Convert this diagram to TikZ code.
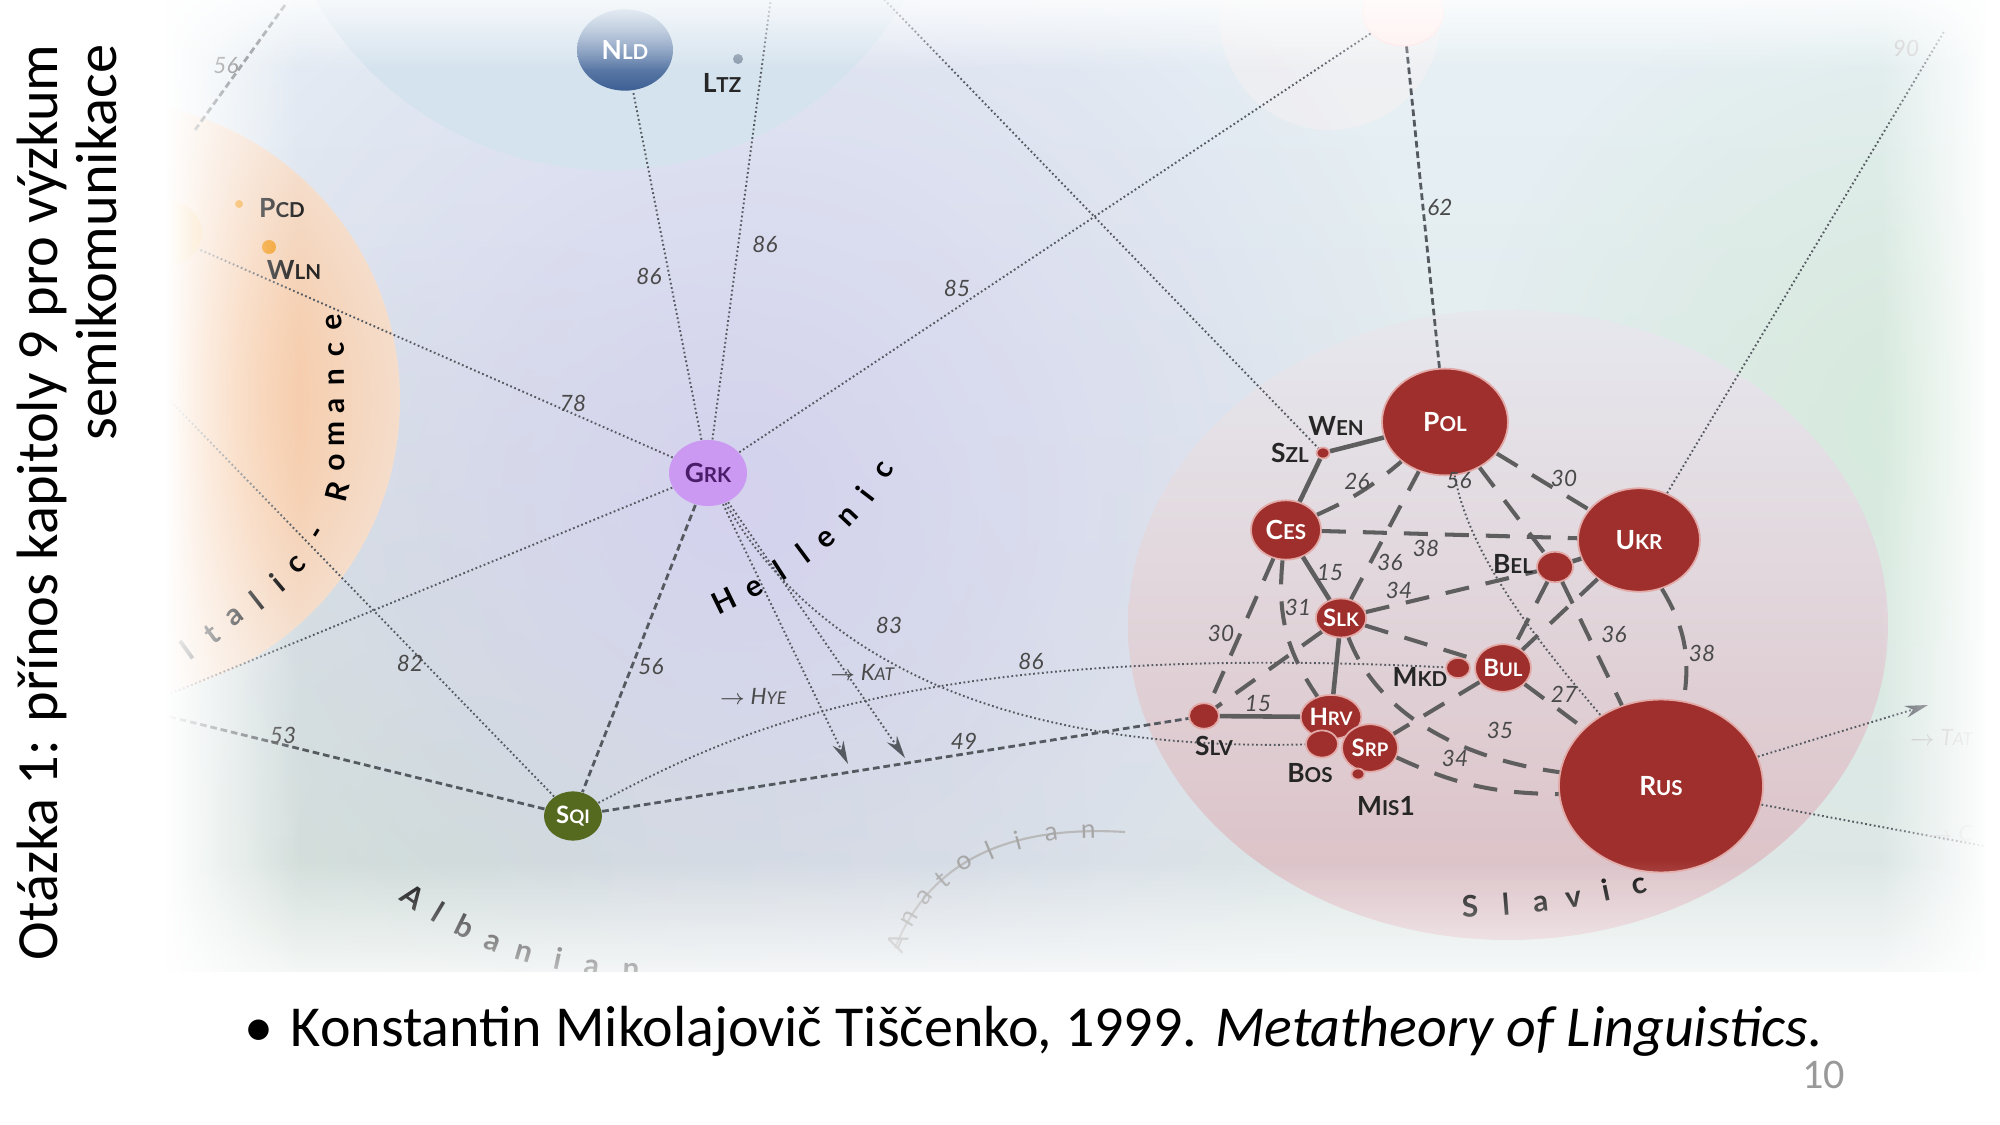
\documentclass[tikz,border=0pt]{standalone}
\usepackage{fontspec}
\usepackage{graphicx}
\setmainfont{Carlito}
\newfontfamily\labfont{Lato}
\usetikzlibrary{arrows.meta, fadings, shapes.geometric}

\definecolor{slavred}{HTML}{9E2F2C}
\definecolor{slavrim}{HTML}{E3A9A7}
\definecolor{netgray}{HTML}{5E5E5E}
\definecolor{dotgray}{HTML}{555A61}
\definecolor{numgray}{HTML}{4A4A4A}
\definecolor{grkfill}{HTML}{CC99F2}
\definecolor{grktext}{HTML}{4A1D6B}
\definecolor{sqifill}{HTML}{55691F}
\definecolor{nldtop}{HTML}{A9BED6}
\definecolor{nldbot}{HTML}{3D5F94}
\definecolor{romdot}{HTML}{F39A1E}
\definecolor{romnode}{HTML}{F8C274}
\definecolor{bgtop}{HTML}{E7F0F5}
\definecolor{bgbot}{HTML}{DCE6E4}
\definecolor{germblue}{HTML}{D5E3EE}
\definecolor{lav}{HTML}{D4D2EE}
\definecolor{albgreen}{HTML}{D0E1D2}
\definecolor{rgreen}{HTML}{D6EADC}
\definecolor{romin}{HTML}{F7B075}
\definecolor{romout}{HTML}{F5DDCB}
\definecolor{slavtop}{HTML}{E6E8EE}
\definecolor{slavbot}{HTML}{DBBFC4}

\tikzfading[name=fade r, left color=transparent!0, right color=transparent!100]
\tikzfading[name=fade l, left color=transparent!100, right color=transparent!0]
\tikzfading[name=fade d, top color=transparent!0, bottom color=transparent!100]
\tikzfading[name=fade u, top color=transparent!100, bottom color=transparent!0]
\tikzfading[name=blob, inner color=transparent!0, outer color=transparent!100]

\newcommand{\lng}[2]{#1\scalebox{0.78}{#2}}
\newcommand{\nodefont}{\labfont\bfseries\fontsize{7.5}{8}\selectfont}
\newcommand{\smallnodefont}{\labfont\bfseries\fontsize{6.8}{7}\selectfont}
\newcommand{\numfont}{\labfont\itshape\fontsize{6.4}{7}\selectfont}
\newcommand{\areafont}{\labfont\bfseries\fontsize{8.5}{9}\selectfont}
\newcommand{\titlefont}{\fontsize{16.6}{16.8}\selectfont}

\tikzset{
  langnode/.style={ellipse, inner sep=0pt, minimum width=#1, minimum height=#1/1.18, font=\nodefont},
  slav/.style={langnode=#1, fill=slavred, draw=slavrim, line width=0.5pt, text=white},
  farline/.style={dotgray, line width=0.55pt, dash pattern=on 0.5pt off 0.75pt},
  midline/.style={dotgray, line width=0.8pt, dash pattern=on 1.9pt off 1.1pt},
  netdash/.style={netgray, line width=1.15pt, dash pattern=on 2.4mm off 1.7mm},
  netsolid/.style={netgray, line width=1.3pt},
  numtxt/.style={font=\numfont, text=numgray, inner sep=0pt},
  tagtxt/.style={font=\nodefont, text=black!85, inner sep=0pt},
  areachar/.style={font=\areafont, sloped, anchor=base, inner sep=0pt},
  tip/.style={-{Stealth[length=2.3mm, width=1.2mm]}},
}

\begin{document}
\begin{tikzpicture}[x=0.1mm, y=-0.1mm]
\useasboundingbox (0,0) rectangle (2000,1125);
\fill[white] (0,0) rectangle (2000,1125);

% slide title, turned
\node[rotate=90, anchor=north east, align=right, inner sep=0pt, font=\titlefont] (title) at (16,44)
  {Otázka 1: přínos kapitoly 9 pro výzkum\\semikomunikace};

\begin{scope}
\clip (166,0) rectangle (1992,985);

% background areas
\shade[top color=bgtop, bottom color=bgbot] (166,0) rectangle (1992,985);
\fill[albgreen, path fading=blob] (470,860) circle (620);
\fill[rgreen, path fading=blob] (1920,420) circle (450);
\fill[lav, path fading=blob] (740,500) circle (720);
\fill[germblue] (610,-170) circle (340);
\shade[inner color=romin, outer color=romout] (100,400) circle (300);
\fill[pink!20, opacity=0.35] (1330,20) circle (110);
\shade[top color=slavtop, bottom color=slavbot]
  (1508,625) ellipse [x radius=380, y radius=315];

% area names
\foreach \ch/\x/\y/\r [count=\k] in {I/187/650/36, t/212/634/37, a/235/617/37, l/257/600/38, i/277/583/40,
    c/297/565/45, -/320/535/58, R/337/492/76, o/337/463/88, m/337/434/90, a/337/406/90,
    n/337/377/91, c/337/350/92, e/334/322/95}
  \node[font=\areafont, rotate=\r, inner sep=0pt] (ir\k) at (\x,\y) {\ch};
\path (722,614) .. controls (800,577) and (862,530) .. (898,462)
  foreach \ch/\p in {H/.03, e/.16, l/.29, l/.41, e/.53, n/.67, i/.80, c/.94}
  {node[areachar, pos=\p] {\ch}};
\path (400,900) .. controls (460,945) and (540,978) .. (650,980)
  foreach \ch/\p in {A/.04, l/.17, b/.30, a/.43, n/.56, i/.69, a/.81, n/.94}
  {node[areachar, pos=\p] {\ch}};
\path (1460,918) .. controls (1530,915) and (1590,908) .. (1650,891)
  foreach \ch/\p in {S/.05, l/.23, a/.41, v/.59, i/.77, c/.95}
  {node[areachar, pos=\p] {\ch}};
\draw[gray!55, line width=0.6pt] (895,948) .. controls (930,860) and (1010,825) .. (1125,832)
  foreach \ch/\p in {A/.02, n/.12, a/.22, t/.32, o/.43, l/.54, i/.65, a/.77, n/.89}
  {node[areachar, anchor=center, font=\labfont\fontsize{7.5}{8}\selectfont, text=gray!70, pos=\p] {\ch}};

% languages
\node[langnode=8mm, fill=romnode] (rom) at (162,233) {};
\node[circle, inner sep=0pt, minimum size=0.8mm, fill=romdot] (pcd) at (239,204) {};
\node[circle, inner sep=0pt, minimum size=1.4mm, fill=romdot] (wln) at (269,247) {};
\node[langnode=9.6mm, top color=nldtop, bottom color=nldbot, text=white] (nld) at (625,50) {\lng{N}{LD}};
\node[circle, inner sep=0pt, minimum size=1mm, fill=nldtop!80!black] (ltz) at (738,59) {};
\node[langnode=8mm, fill=pink!25, draw=pink!40] (topn) at (1403,12) {};
\node[langnode=7.8mm, fill=grkfill, text=grktext] (grk) at (708,473) {\lng{G}{RK}};
\node[langnode=5.8mm, fill=sqifill, text=white, font=\smallnodefont] (sqi) at (573,816) {\lng{S}{QI}};

\node[slav=12.6mm] (pol) at (1445,422) {\lng{P}{OL}};
\node[slav=12.2mm] (ukr) at (1639,540) {\lng{U}{KR}};
\node[slav=20.4mm] (rus) at (1661,786) {\lng{R}{US}};
\node[slav=7mm] (ces) at (1286,530) {\lng{C}{ES}};
\node[slav=4.6mm, font=\smallnodefont] (slk) at (1341,618) {\lng{S}{LK}};
\node[slav=3.6mm] (bel) at (1555,567) {};
\node[slav=5.6mm, font=\smallnodefont] (bul) at (1503,668) {\lng{B}{UL}};
\node[slav=2.4mm] (mkd) at (1458,668) {};
\node[slav=5.2mm, font=\smallnodefont] (hrv) at (1331,717) {\lng{H}{RV}};
\node[slav=3.2mm] (bos) at (1322,744) {};
\node[slav=5.6mm, font=\smallnodefont] (srp) at (1370,748) {\lng{S}{RP}};
\node[slav=1.3mm] (mis) at (1358,774) {};
\node[slav=3mm] (slv) at (1204,716) {};
\node[slav=1.3mm] (szl) at (1323,453) {};

% free ends
\coordinate (grkup) at (772,-10);
\coordinate (grkw) at (150,702);
\coordinate (romb) at (150,380);
\coordinate (sqiw) at (150,712);
\coordinate (hye) at (848,764);
\coordinate (kat) at (905,758);
\coordinate (szlup) at (875,-10);
\coordinate (ne90) at (1945,30);
\coordinate (tat) at (1928,705);
\coordinate (cout) at (1995,848);
\coordinate (nw1) at (285,5);
\coordinate (nw2) at (195,130);

% long distances
\draw[farline] (grk) -- (nld);
\draw[farline] (grk) -- (grkup);
\draw[farline] (grk) -- (topn);
\draw[farline] (grk) -- (rom);
\draw[farline] (grk) -- (grkw);
\draw[midline] (grk) -- (sqi);
\draw[farline, tip] (grk) -- (hye);
\draw[farline, tip] (grk) -- (kat);
\draw[farline] (grk) .. controls (840,700) and (1080,750) .. (bos);
\draw[farline] (sqi) -- (romb);
\draw[midline] (sqi) -- (sqiw);
\draw[midline] (sqi) -- (slv);
\draw[farline] (sqi) .. controls (720,740) and (900,640) .. (mkd);
\draw[midline] (topn) -- (pol);
\draw[farline] (szlup) -- (szl);
\draw[farline] (pol) .. controls (1470,560) and (1545,650) .. (rus);
\draw[farline] (ukr) -- (ne90);
\draw[farline, tip] (rus) -- (tat);
\draw[farline] (rus) -- (cout);
\draw[midline] (nw1) -- (nw2);

% slavic net
\draw[netsolid] (szl) -- (pol);
\draw[netsolid] (szl) -- (ces);
\draw[netsolid] (ces) -- (slk);
\draw[netsolid] (slk) -- (hrv);
\draw[netsolid] (slv) -- (hrv);
\draw[netsolid] (bel) -- (ukr);
\draw[netdash] (ces) to[bend right=8] (pol);
\draw[netdash] (slk) -- (pol);
\draw[netdash] (ces) -- (ukr);
\draw[netdash] (pol) -- (ukr);
\draw[netdash] (pol) -- (bel);
\draw[netdash] (bel) -- (rus);
\draw[netdash] (slk) -- (bel);
\draw[netdash] (slk) -- (bul);
\draw[netdash] (slk) .. controls (1380,720) and (1470,760) .. (rus);
\draw[netdash] (srp) to[bend right=12] (rus);
\draw[netdash] (bul) -- (rus);
\draw[netdash] (ukr) to[bend left=20] (rus);
\draw[netdash] (bel) -- (bul);
\draw[netdash] (ukr) -- (bul);
\draw[netdash] (bul) -- (srp);
\draw[netdash] (ces) -- (slv);
\draw[netdash] (ces) to[bend right=20] (hrv);
\draw[netdash] (slk) -- (slv);

% distances
\foreach \x/\y/\t [count=\k] in {1357/481/26, 1459/481/56, 1564/478/30, 1426/548/38, 1330/573/15,
    1390/562/36, 1399/590/34, 1298/607/31, 1221/633/30, 1614/634/36, 1702/653/38, 1564/694/27,
    1258/704/15, 1500/730/35, 1455/758/34, 1440/207/62, 957/288/85, 649/276/86, 765/244/86,
    573/403/78, 410/663/82, 651/667/56, 889/625/83, 1031/661/86, 964/741/49, 283/735/53, 226/66/56}
  \node[numtxt] (d\k) at (\x,\y) {\t};
\node[numtxt, text=gray!45] (d90) at (1906,48) {90};
\node[numtxt] (hyet) at (753,696) {$\to$ \lng{H}{YE}};
\node[numtxt] (katt) at (862,672) {$\to$ \lng{K}{AT}};
\node[numtxt, text=gray!55] (tatt) at (1941,737) {$\to$ \lng{T}{AT}};
\node[numtxt, text=gray!40] (ct) at (1950,833) {$\to$ C};

% names beside small dots
\node[tagtxt] (wen) at (1336,426) {\lng{W}{EN}};
\node[tagtxt] (szlt) at (1290,453) {\lng{S}{ZL}};
\node[tagtxt] (belt) at (1513,564) {\lng{B}{EL}};
\node[tagtxt] (mkdt) at (1420,677) {\lng{M}{KD}};
\node[tagtxt] (slvt) at (1214,746) {\lng{S}{LV}};
\node[tagtxt] (bost) at (1310,773) {\lng{B}{OS}};
\node[tagtxt] (mist) at (1386,806) {\lng{M}{IS}1};
\node[tagtxt] (ltzt) at (722,83) {\lng{L}{TZ}};
\node[tagtxt] (pcdt) at (282,208) {\lng{P}{CD}};
\node[tagtxt] (wlnt) at (294,270) {\lng{W}{LN}};

% soft frame
\fill[white, path fading=fade r] (166,0) rectangle (300,985);
\fill[white, path fading=fade l] (1880,0) rectangle (1992,985);
\fill[white, path fading=fade d] (166,-20) rectangle (1992,70);
\fill[white, path fading=fade u] (166,860) rectangle (1992,1010);
\end{scope}
\fill[white] (160,972) rectangle (2000,1000);
\fill[white] (1985,0) rectangle (2000,1000);

\node[anchor=base west, inner sep=0pt, font=\fontsize{16.5}{19}\selectfont] (cite) at (244,1047)
  {•\hspace{0.3em}Konstantin Mikolajovič Tiščenko, 1999. \textit{Metatheory of Linguistics.}};
\node[anchor=base east, inner sep=0pt, text=gray!80, font=\fontsize{12}{14}\selectfont] (page) at (1846,1088) {10};
\end{tikzpicture}
\end{document}
